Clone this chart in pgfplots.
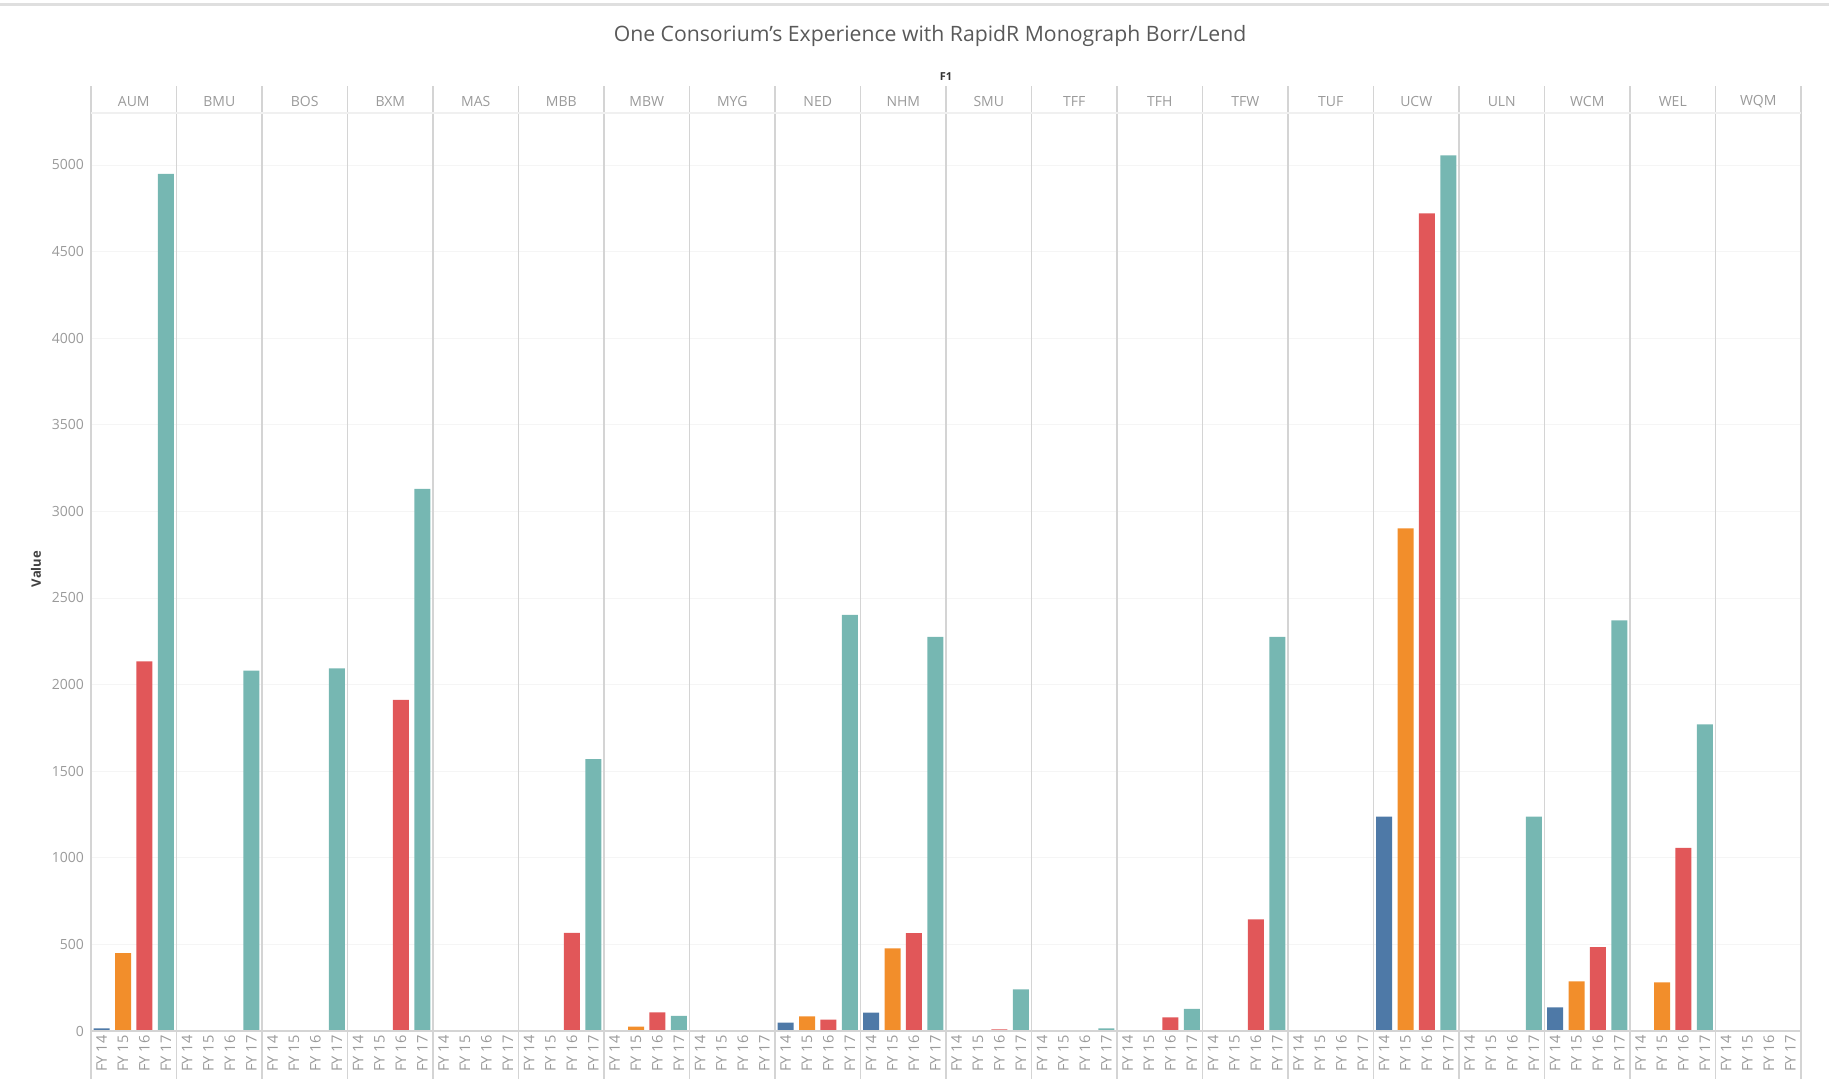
\documentclass[border=0pt]{standalone}
\usepackage{fontspec}
\setmainfont{Open Sans}
\usepackage{pgfplots}
\pgfplotsset{compat=1.18}
\definecolor{cA}{HTML}{4E79A7}
\definecolor{cB}{HTML}{F28E2B}
\definecolor{cC}{HTML}{E15759}
\definecolor{cD}{HTML}{76B7B2}
\definecolor{tickgray}{HTML}{9A9A9A}
\definecolor{sepgray}{HTML}{D4D4D4}
\begin{document}
\begin{tikzpicture}
\path[use as bounding box] (-45.5pt,-27pt) rectangle (869pt,515.5pt);
\draw[gray!25, line width=1.5pt] (-45.5pt,513pt) -- (869pt,513pt);
\begin{axis}[
  at={(0,0)}, anchor=south west,
  scale only axis, width=855pt, height=459pt,
  xmin=-0.5, xmax=79.5, ymin=0, ymax=5300,
  axis line style={draw=none},
  ytick={0,500,...,5000},
  ymajorgrids, grid style={gray!8},
  major tick length=0pt,
  xtick={0,...,79},
  xticklabel={\pgfmathtruncatemacro\fy{14+mod(round(\tick),4)}FY \fy},
  x tick label style={rotate=90, anchor=east, font=\fontsize{7.3}{8}\selectfont, text=tickgray, inner sep=2pt},
  y tick label style={font=\fontsize{7}{8}\selectfont, text=tickgray},
  /pgf/number format/assume math mode=true,
  /pgf/number format/1000 sep={},
  ybar, bar width=8pt, bar shift=0pt,
  clip=false,
]
% FY14
\addplot[fill=cA, draw=none] coordinates {(0,15) (32,48) (36,106) (60,1238) (68,137)};
% FY15
\addplot[fill=cB, draw=none] coordinates {(1,450) (25,25) (33,85) (37,477) (61,2902) (69,286) (73,280)};
% FY16
\addplot[fill=cC, draw=none] coordinates {(2,2134) (14,1911) (22,566) (26,107) (34,65) (38,565) (42,10) (50,78) (54,645) (62,4720) (70,484) (74,1057)};
% FY17
\addplot[fill=cD, draw=none] coordinates {(3,4949) (7,2080) (11,2093) (15,3130) (23,1570) (27,87) (35,2403) (39,2275) (43,241) (47,15) (51,128) (55,2275) (63,5056) (67,1238) (71,2370) (75,1770)};
\end{axis}
% panel separators
\foreach \i in {0,...,20} {
  \draw[sepgray, line width=0.6pt] ({\i*42.75pt},-24pt) -- ({\i*42.75pt},472.5pt);
}
\draw[sepgray, line width=0.6pt] (0,0) -- (855pt,0);
\draw[gray!12, line width=0.6pt] (0,459pt) -- (855pt,459pt);
% panel headers
\foreach \n [count=\i from 0] in {AUM,BMU,BOS,BXM,MAS,MBB,MBW,MYG,NED,NHM,SMU,TFF,TFH,TFW,TUF,UCW,ULN,WCM,WEL,WQM} {
  \node[font=\fontsize{7}{8}\selectfont, text=tickgray] at ({(\i+0.5)*42.75pt},464.5pt) {\n};
}
\node[font=\fontsize{5.5}{6}\selectfont\bfseries, text=black!80] at (427.5pt,477pt) {F1};
\node[font=\fontsize{10.6}{13}\selectfont, text=black!65] at (419.5pt,497.5pt) {One Consorium’s Experience with RapidR Monograph Borr/Lend};
\node[font=\fontsize{6.5}{7}\selectfont\bfseries, text=black!75, rotate=90] at (-27.5pt,231pt) {Value};
\end{tikzpicture}
\end{document}
